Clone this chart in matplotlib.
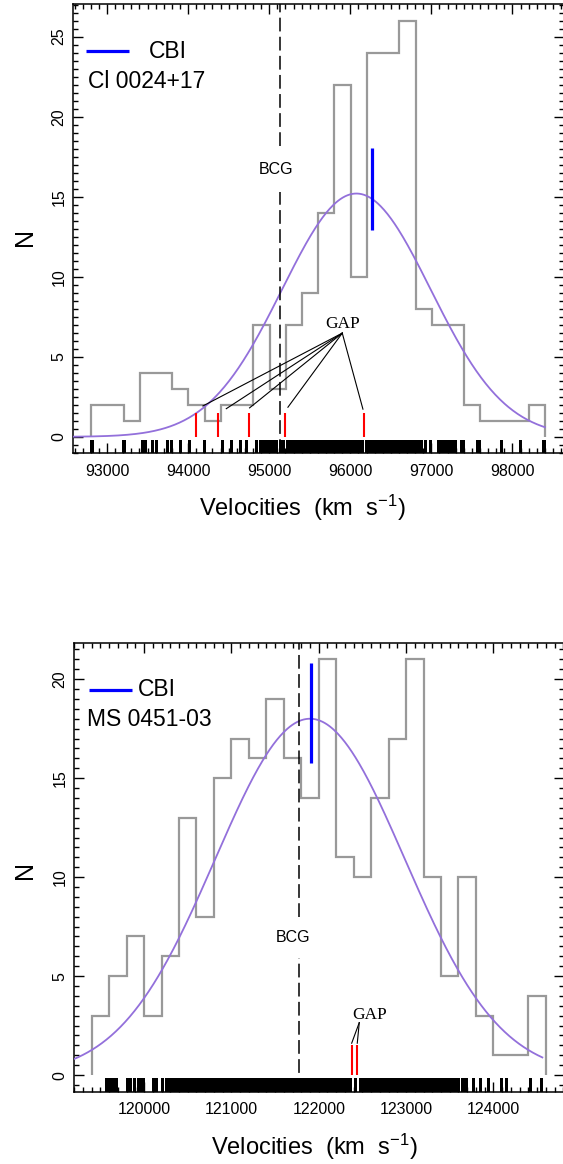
import numpy as np
import matplotlib
matplotlib.use("Agg")
import matplotlib.pyplot as plt
from matplotlib.ticker import MultipleLocator, FixedLocator
import matplotlib.transforms as mtransforms

plt.rcParams['font.family'] = ['Liberation Sans', 'DejaVu Sans']
plt.rcParams['mathtext.fontset'] = 'custom'
plt.rcParams['mathtext.rm'] = 'Liberation Sans'
plt.rcParams['mathtext.default'] = 'regular'

W, H, DPI = 563, 1164, 100

# ---------------- data: Cl 0024+17 ----------------
cl_name = "Cl 0024+17"
cl_edge0 = 92805
cl_binw = 200
cl_counts = [2, 2, 1, 4, 4, 3, 2, 1, 2, 2, 7, 3, 7, 9, 14, 22, 10, 24, 24, 26, 8, 7, 7, 2, 1, 1, 1, 2]
cl_rug = [92802, 92810, 93198, 93206, 93432, 93453, 93474, 93556, 93605, 93741, 93790, 93906,
          94009, 94194, 94420, 94531, 94635, 94716, 94832,
          94885, 94903, 94921, 94940, 94958, 94979, 94998, 95017, 95040, 95063, 95084,
          95128, 95148, 95166, 95218, 95236, 95255, 95274, 95292, 95309, 95328, 95347, 95366,
          95383, 95401, 95420, 95438, 95456, 95474, 95493, 95511, 95530, 95548, 95566, 95584,
          95602, 95618, 95630, 95647, 95661, 95674, 95690, 95702, 95719, 95731, 95747, 95759,
          95775, 95787, 95803, 95815, 95831, 95843, 95859, 95871, 95887, 95899, 95915, 95927,
          95943, 95955, 95971, 95983, 95999, 96011, 96028, 96040, 96057, 96069, 96086, 96099,
          96117, 96131, 96146,
          96192, 96207, 96219, 96235, 96247, 96263, 96275, 96291, 96303, 96319, 96331, 96347,
          96359, 96375, 96387, 96403, 96415, 96431, 96443, 96459, 96471, 96487, 96499, 96515,
          96527, 96543, 96555, 96571, 96583, 96599, 96611, 96627, 96639, 96655, 96667, 96683,
          96695, 96711, 96723, 96739, 96751, 96767, 96781, 96799, 96814, 96832,
          96877, 96919, 96980, 97083, 97104, 97144, 97165, 97210, 97227, 97267, 97293, 97367,
          97395, 97561, 97589, 97860, 98090, 98371, 98390]
cl_fit = (15.2, 96075, 915)      # amplitude, mean, sigma of the gaussian
cl_fit_end = 98400
cl_bcg = 95128
cl_bcg_gap = (15.27, 18.15)
cl_bcg_label = (95088, 16.68)
cl_cbi_v = 96263
cl_cbi_n = (12.93, 18.04)
cl_gaps = [94101, 94364, 94746, 95190, 96168]
cl_gap_label = (95901, 7.06)
cl_gap_anchor = (95901, 6.48)
cl_gap_ends = [(94183, 1.93), (94471, 1.76), (94758, 1.81), (95231, 1.85), (96156, 1.73)]
cl_xticks = [93000, 94000, 95000, 96000, 97000, 98000]
cl_yticks = [0, 5, 10, 15, 20, 25]
cl_ymax = 26

# ---------------- data: MS 0451-03 ----------------
ms_name = "MS 0451-03"
ms_edge0 = 119400
ms_binw = 200
ms_counts = [3, 5, 7, 3, 6, 13, 8, 15, 17, 16, 19, 16, 14, 21, 11, 10, 14, 17, 21, 10, 5, 10, 3, 1, 1, 4]
ms_rug = [119565, 119580, 119598, 119615, 119640, 119668, 119683, 119800, 119839, 119888,
          119935, 119969, 119984, 120105, 120125, 120141, 120205,
          120255, 120270, 120290, 120318, 120335, 120352, 120378, 120400, 120418, 120440,
          120462, 120490, 120508, 120530, 120548, 120570, 120598, 120620, 120640, 120660,
          120685, 120705, 120722, 120745, 120770, 120790, 120812, 120835, 120855, 120872,
          120895, 120918, 120940, 120958, 120980, 121002, 121025, 121045, 121068, 121090,
          121110, 121130, 121152, 121175, 121198, 121218, 121240, 121262, 121280, 121305,
          121325, 121348, 121370, 121390, 121410, 121432, 121455, 121475, 121498, 121520,
          121540, 121562, 121585, 121605, 121628, 121650, 121672, 121695, 121715, 121738,
          121760, 121782, 121805, 121828, 121850, 121870, 121892, 121915, 121935, 121958,
          121980, 122002, 122025, 122045, 122068, 122090, 122112, 122135, 122158, 122180,
          122202, 122225, 122248, 122270, 122292, 122315, 122338, 122360, 122410, 122468,
          122490, 122512, 122535, 122558, 122580, 122602, 122625, 122648, 122670, 122692,
          122715, 122738, 122760, 122782, 122805, 122828, 122850, 122872, 122895, 122918,
          122940, 122962, 122985, 123008, 123030, 123052, 123075, 123098, 123120, 123142,
          123165, 123188, 123210, 123232, 123255, 123278, 123300, 123322, 123345, 123368,
          123390, 123412, 123435, 123458, 123480, 123502, 123525, 123548, 123570, 123600,
          123640, 123660, 123688, 123766, 123849, 123938, 124084, 124147, 124419, 124541]
ms_fit = (18.0, 121900, 1085)
ms_fit_end = 124560
ms_bcg = 121777
ms_bcg_gap = (5.89, 7.98)
ms_bcg_label = (121702, 6.96)
ms_cbi_v = 121908
ms_cbi_n = (15.75, 20.83)
ms_gaps = [122377, 122441]
ms_gap_label = (122579, 3.04)
ms_gap_anchor = (122464, 2.65)
ms_gap_ends = [(122377, 1.61), (122441, 1.61)]
ms_xticks = [120000, 121000, 122000, 123000, 124000]
ms_yticks = [0, 5, 10, 15, 20]
ms_ymax = 21

GRAY = '#999999'
PURPLE = '#9370DB'
BLUE = '#0000FF'
RED = '#FF0000'

fig = plt.figure(figsize=(W / DPI, H / DPI), dpi=DPI)


def px_axes(l, t, r, b):
    return fig.add_axes([l / W, 1 - b / H, (r - l) / W, (b - t) / H])


def panel(ax, edge0, binw, counts, rug, fit, fit_end, bcg, bcg_gap, bcg_label,
          cbi_v, cbi_n, gaps, gap_label, gap_anchor, gap_ends, xticks, yticks, ymax,
          name, leg_line, leg_cbi_x, leg_y, name_xy):
    edges = edge0 + binw * np.arange(len(counts) + 1)
    span = edges[-1] - edges[0]
    ax.set_xlim(edges[0] - 0.04 * span, edges[-1] + 0.04 * span)
    ax.set_ylim(-0.04 * ymax, ymax * 1.04)
    x0, x1 = ax.get_xlim()
    y0, y1 = ax.get_ylim()

    ax.stairs(counts, edges, baseline=0, fill=False, color=GRAY, lw=1.6, zorder=2)

    A, mu, sig = fit
    xx = np.linspace(x0, fit_end, 400)
    ax.plot(xx, A * np.exp(-0.5 * ((xx - mu) / sig) ** 2), color=PURPLE, lw=1.3, zorder=3)

    # BCG dashed line with label
    ax.plot([bcg, bcg], [y0, bcg_gap[0]], color='black', lw=1.1, dashes=(9, 3.5), zorder=3)
    ax.plot([bcg, bcg], [bcg_gap[1], y1], color='black', lw=1.1, dashes=(9, 3.5), zorder=3)
    ax.text(bcg_label[0], bcg_label[1], "BCG", fontsize=11.5, ha='center', va='center',
            family=['Liberation Sans', 'DejaVu Sans'])

    # CBI
    ax.plot([cbi_v, cbi_v], cbi_n, color=BLUE, lw=2.3, zorder=5, solid_capstyle='butt')

    # gaps
    ax.vlines(gaps, 0, 1.5, color=RED, lw=1.5, zorder=4)
    for ex, ey in gap_ends:
        ax.plot([gap_anchor[0], ex], [gap_anchor[1], ey], color='black', lw=0.8, zorder=4)
    ax.text(gap_label[0], gap_label[1], "GAP", fontsize=12.5, ha='center', va='center',
            family=['Liberation Serif', 'DejaVu Serif'])

    # rug
    trans = mtransforms.blended_transform_factory(ax.transData, ax.transAxes)
    ax.vlines(rug, 0, 0.03, transform=trans, color='black', lw=1.0, zorder=4,
              antialiased=False)

    # legend
    ax.plot(leg_line[0], [leg_y, leg_y], color=BLUE, lw=2.3, solid_capstyle='butt')
    ax.text(leg_cbi_x, leg_y, "CBI", fontsize=16.5, ha='left', va='center')
    ax.text(name_xy[0], name_xy[1], name, fontsize=16.5, ha='left', va='center')

    # axes style
    ax.xaxis.set_major_locator(FixedLocator(xticks))
    ax.xaxis.set_minor_locator(MultipleLocator(100))
    ax.set_xticklabels([str(t) for t in xticks], fontsize=11.5)
    ax.yaxis.set_major_locator(FixedLocator(yticks))
    ax.yaxis.set_minor_locator(MultipleLocator(0.5))
    ax.set_yticklabels([str(t) for t in yticks], fontsize=11.5, rotation=90, va='center')
    ax.tick_params(which='both', direction='in', top=True, right=True, width=1.0)
    ax.tick_params(which='major', length=7)
    ax.tick_params(which='minor', length=3.5)
    ax.tick_params(axis='x', pad=7.5)
    ax.tick_params(axis='y', pad=4.5)
    for s in ax.spines.values():
        s.set_linewidth(1.1)


ax1 = px_axes(73, 4, 563.5, 453.5)
panel(ax1, cl_edge0, cl_binw, cl_counts, cl_rug, cl_fit, cl_fit_end, cl_bcg, cl_bcg_gap,
      cl_bcg_label, cl_cbi_v, cl_cbi_n, cl_gaps, cl_gap_label, cl_gap_anchor, cl_gap_ends,
      cl_xticks, cl_yticks, cl_ymax, cl_name,
      leg_line=([92745, 93270],), leg_cbi_x=93513, leg_y=24.1, name_xy=(92765, 22.2))

ax2 = px_axes(73.5, 642.7, 564, 1091.7)
panel(ax2, ms_edge0, ms_binw, ms_counts, ms_rug, ms_fit, ms_fit_end, ms_bcg, ms_bcg_gap,
      ms_bcg_label, ms_cbi_v, ms_cbi_n, ms_gaps, ms_gap_label, ms_gap_anchor, ms_gap_ends,
      ms_xticks, ms_yticks, ms_ymax, ms_name,
      leg_line=([119373, 119858],), leg_cbi_x=119934, leg_y=19.47, name_xy=(119343, 17.97))

xlabel = "Velocities  (km  s$^{-1}$)"
fig.text(302.5 / W, 1 - 508 / H, xlabel, fontsize=17, ha='center', va='center')
fig.text(314.7 / W, 1 - 1146.7 / H, xlabel, fontsize=17, ha='center', va='center')
fig.text(25 / W, 1 - 237 / H, "N", fontsize=18, ha='center', va='center', rotation=90)
fig.text(25 / W, 1 - 870 / H, "N", fontsize=18, ha='center', va='center', rotation=90)

fig.savefig("out.png", dpi=DPI)
